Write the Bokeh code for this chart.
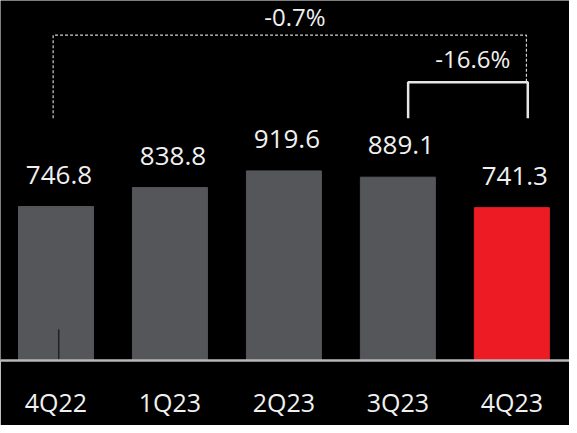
from bokeh.plotting import figure
from bokeh.models import ColumnDataSource, LabelSet, Label, FixedTicker, Range1d
from bokeh.core.properties import value
from bokeh.embed import file_html
from bokeh.resources import INLINE

# ---- data ----
quarters = ["4Q22", "1Q23", "2Q23", "3Q23", "4Q23"]
revenue = [746.8, 838.8, 919.6, 889.1, 741.3]
value_labels = ["746.8", "838.8", "919.6", "889.1", "741.3"]
yoy_change = "-0.7%"
qoq_change = "-16.6%"

# ---- styles ----
GRAY = "#55565a"
RED = "#ed1c24"
TEXT = "#f0f0f0"
FONT = "Open Sans"

xs = list(range(len(quarters)))
colors = [GRAY] * (len(quarters) - 1) + [RED]
src = ColumnDataSource(dict(x=xs, top=revenue, color=colors, lab=value_labels))

p = figure(width=569, height=425, output_backend="svg", toolbar_location=None,
           x_range=Range1d(-0.487, 4.506), y_range=Range1d(0, 1746),
           y_axis_location=None, min_border_left=0, min_border_right=0,
           min_border_top=0, min_border_bottom=65)
p.background_fill_color = "black"
p.border_fill_color = "black"
p.outline_line_color = None
p.grid.visible = False

p.vbar(x="x", top="top", width=0.658, color="color", source=src)

# thin dark mark inside first bar
p.segment(x0=[0.024], y0=[0], x1=[0.024], y1=[152], line_color="#222222", line_width=1.5)

# value labels
p.add_layout(LabelSet(x="x", y="top", text="lab", source=src, text_align="center",
                      text_baseline="alphabetic", x_offset=3, y_offset=23, text_color=TEXT,
                      text_font=value(FONT), text_font_size="26px"))

# dashed bracket (4Q22 -> 4Q23)
p.line(x=[-0.025, -0.025, 4.128, 4.128], y=[1175, 1578, 1578, 1350],
       line_color="#cfcfcf", line_width=1.2, line_dash="3 2")
# solid bracket (3Q23 -> 4Q23)
p.line(x=[3.090, 3.090, 4.140, 4.140], y=[1175, 1350, 1350, 1175],
       line_color="#e6e6e6", line_width=2.5)

p.add_layout(Label(x=2.096, y=1666, text=yoy_change, text_align="center",
                   text_baseline="alphabetic", text_color=TEXT,
                   text_font=FONT, text_font_size="24px"))
p.add_layout(Label(x=3.657, y=1464, text=qoq_change, text_align="center",
                   text_baseline="alphabetic", text_color=TEXT,
                   text_font=FONT, text_font_size="24px"))

# x axis
ax = p.xaxis[0]
ax.ticker = FixedTicker(ticks=xs)
ax.major_label_overrides = {i: q for i, q in enumerate(quarters)}
ax.axis_line_color = "#b8b8b8"
ax.axis_line_width = 2.5
ax.major_tick_line_color = None
ax.minor_tick_line_color = None
ax.major_label_standoff = 18
ax.major_label_text_color = TEXT
ax.major_label_text_font = FONT
ax.major_label_text_font_size = "25px"

open("out.html", "w").write(file_html(p, INLINE))
